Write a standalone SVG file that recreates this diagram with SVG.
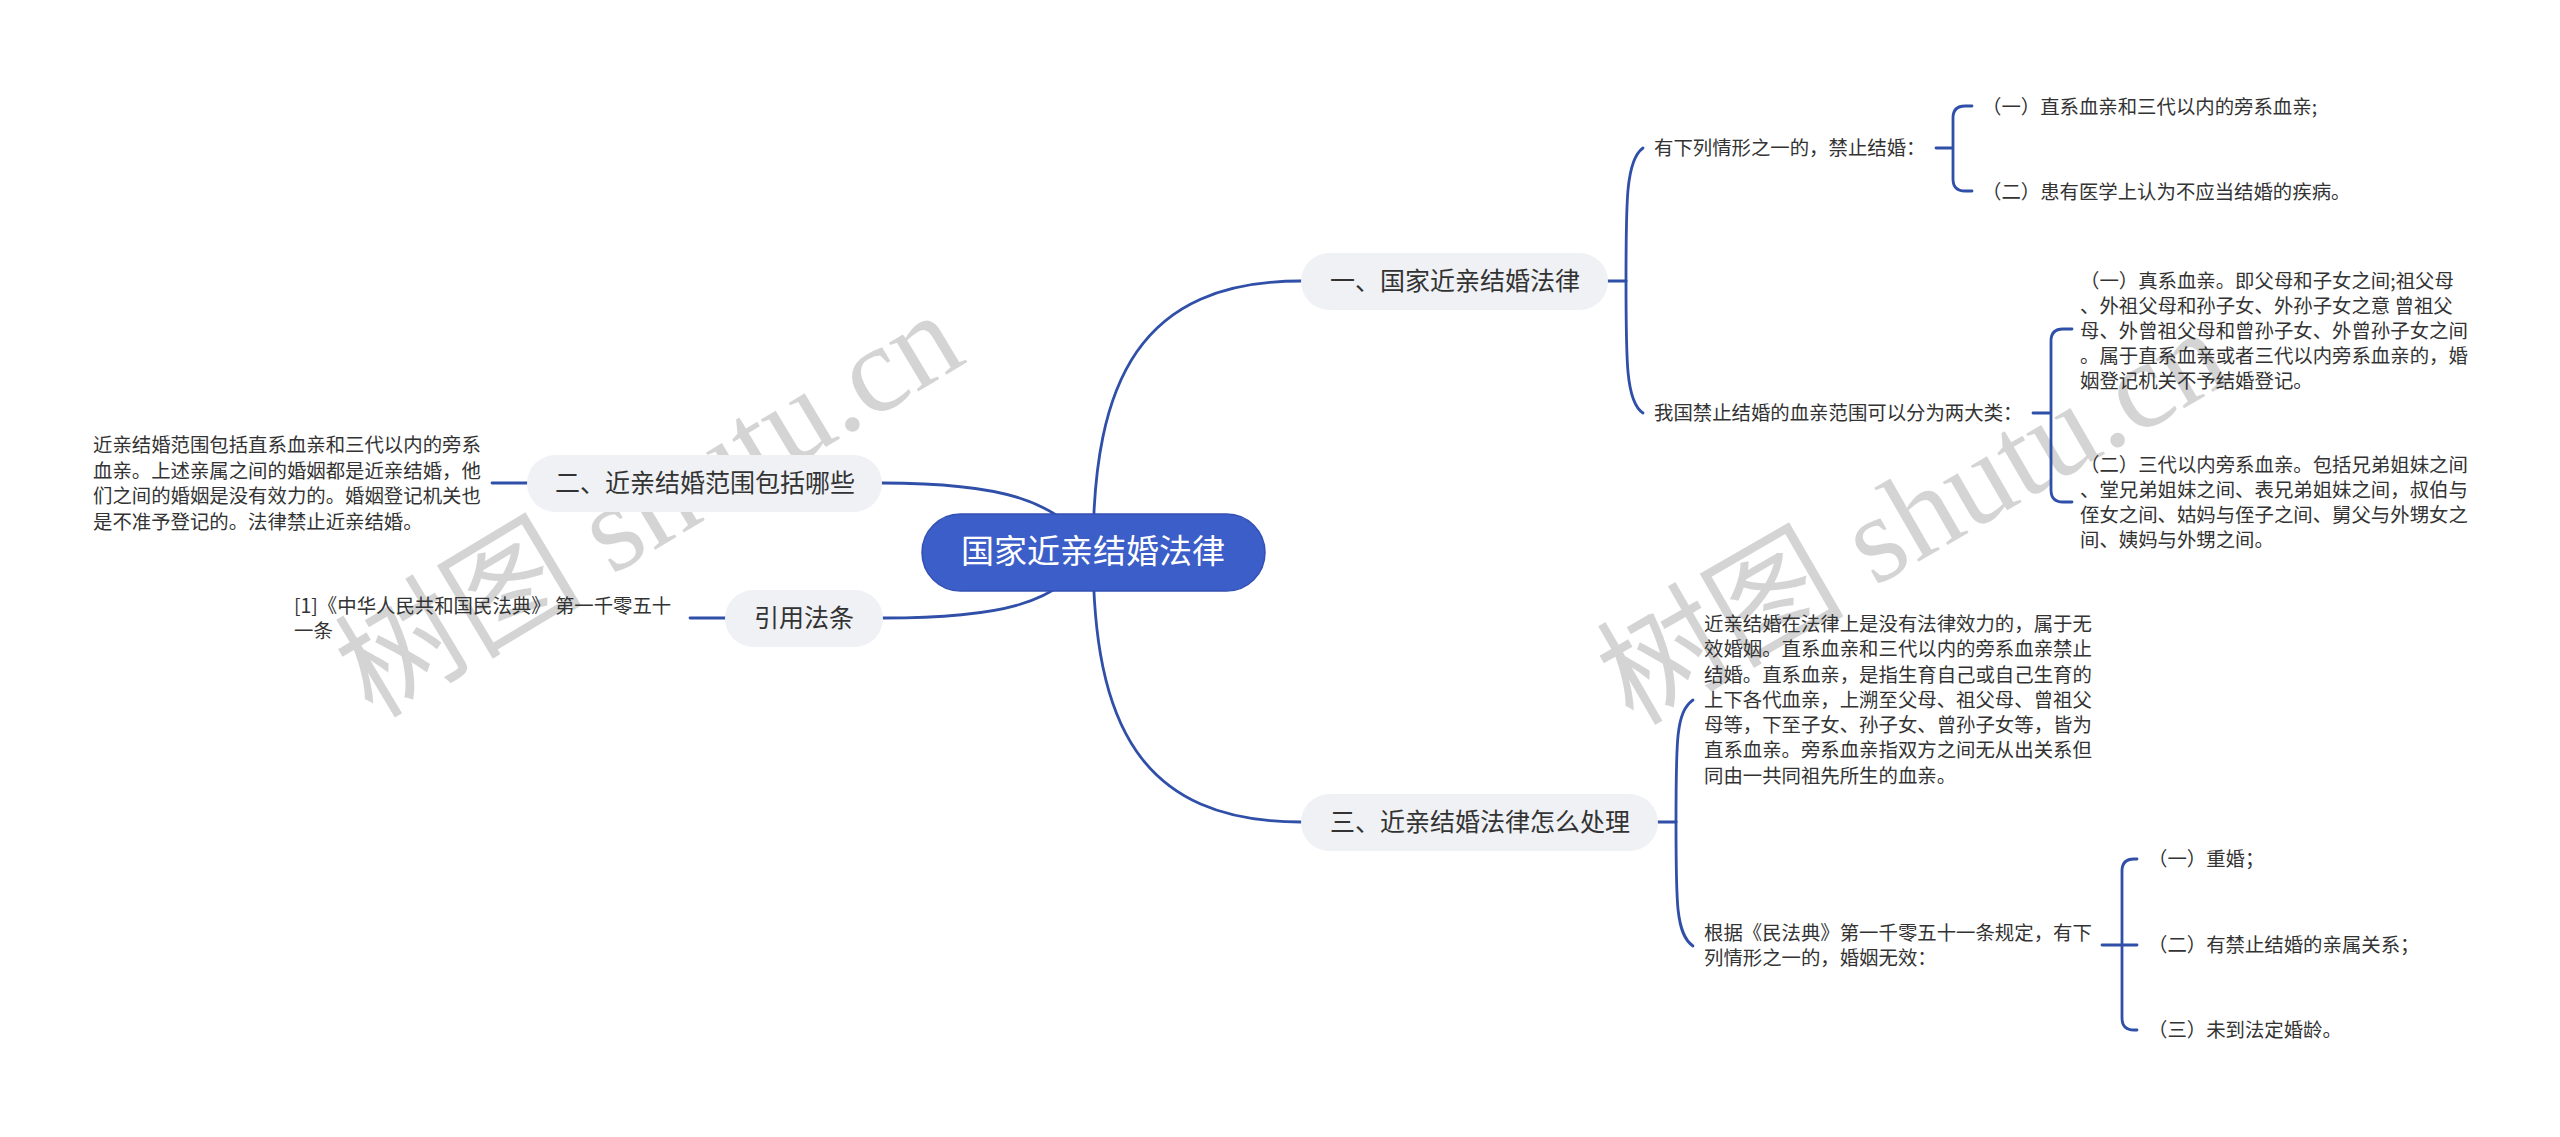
<svg xmlns="http://www.w3.org/2000/svg" width="2560" height="1137" viewBox="0 0 2560 1137">
<style>
.wm{font-family:"Liberation Serif","Noto Sans CJK SC",serif;font-size:124px;fill:#000;fill-opacity:0.17}
.c{fill:none;stroke:#2f4fa8;stroke-width:2.8;stroke-linecap:round}
.pill{fill:#eff1f5}
.nt{font-family:"Noto Sans CJK SC","Microsoft YaHei",sans-serif;font-size:25px;fill:#333;text-anchor:middle}
.rt{font-family:"Noto Sans CJK SC","Microsoft YaHei",sans-serif;font-size:33px;fill:#fff;text-anchor:middle}
.lt{font-family:"Noto Sans CJK SC","Microsoft YaHei",sans-serif;font-size:19.4px;fill:#333}
</style>
<rect width="2560" height="1137" fill="#fff"/>
<g id="watermarks">
<text class="wm" transform="translate(650,506) rotate(-31)" x="0" y="40" text-anchor="middle">树图 shutu.cn</text>
<text class="wm" transform="translate(1914,518) rotate(-30)" x="0" y="40" text-anchor="middle">树图 shutu.cn</text>
</g>
<g id="connectors">
<path class="c" d="M1093,552 C1093,380 1140,281 1301,281"/>
<path class="c" d="M1093,552 C1093,724 1140,822 1301,822"/>
<path class="c" d="M882,483 C1000,483 1060,500 1093,552"/>
<path class="c" d="M883,618 C1000,618 1060,604 1093,552"/>
<path class="c" d="M492,483 L527,483"/>
<path class="c" d="M690,618 L725,618"/>
<path class="c" d="M1608,281 L1626,281"/>
<path class="c" d="M1626,281 C1626,200 1626,160 1643,148"/>
<path class="c" d="M1626,281 C1626,362 1626,402 1643,413"/>
<path class="c" d="M1936,148 L1953,148 M1953,148 L1953,118 Q1953,106 1965,106 L1972,106 M1953,148 L1953,179 Q1953,191 1965,191 L1972,191"/>
<path class="c" d="M2033,413 L2051,413 M2051,413 L2051,341 Q2051,329 2063,329 L2072,329 M2051,413 L2051,490 Q2051,502 2063,502 L2072,502"/>
<path class="c" d="M1657,822 L1676,822"/>
<path class="c" d="M1676,822 C1676,740 1676,712 1693,700"/>
<path class="c" d="M1676,822 C1676,904 1676,934 1693,946"/>
<path class="c" d="M2102,945 L2137,945 M2122,945 L2122,871 Q2122,859 2134,859 L2137,859 M2122,945 L2122,1018 Q2122,1030 2134,1030 L2137,1030"/>
</g>
<g id="root">
<rect x="922" y="514" width="343" height="77" rx="38.5" fill="#3c5ec8" stroke="#3350b4" stroke-width="1.5"/>
<text class="rt" x="1093" y="563">国家近亲结婚法律</text>
</g>
<g id="n1">
<rect class="pill" x="1301" y="253" width="307" height="57" rx="28.5"/>
<text class="nt" x="1455" y="290">一、国家近亲结婚法律</text>
</g>
<g id="n2">
<rect class="pill" x="527" y="455" width="355" height="57" rx="28.5"/>
<text class="nt" x="705" y="492">二、近亲结婚范围包括哪些</text>
</g>
<g id="n3">
<rect class="pill" x="725" y="590" width="158" height="57" rx="28.5"/>
<text class="nt" x="804" y="627">引用法条</text>
</g>
<g id="n4">
<rect class="pill" x="1301" y="794" width="357" height="57" rx="28.5"/>
<text class="nt" x="1480" y="831">三、近亲结婚法律怎么处理</text>
</g>
<g id="n1a"><text class="lt" x="1654" y="155">有下列情形之一的，禁止结婚：</text></g>
<g id="n1a1"><text class="lt" x="1982" y="114">（一）直系血亲和三代以内的旁系血亲;</text></g>
<g id="n1a2"><text class="lt" x="1982" y="199">（二）患有医学上认为不应当结婚的疾病。</text></g>
<g id="n1b"><text class="lt" x="1654" y="420">我国禁止结婚的血亲范围可以分为两大类：</text></g>
<g id="n1b1"><text class="lt">
<tspan x="2080" y="288">（一）真系血亲。即父母和子女之间;祖父母</tspan>
<tspan x="2080" y="313">、外祖父母和孙子女、外孙子女之意 曾祖父</tspan>
<tspan x="2080" y="338">母、外曾祖父母和曾孙子女、外曾孙子女之间</tspan>
<tspan x="2080" y="363">。属于直系血亲或者三代以内旁系血亲的，婚</tspan>
<tspan x="2080" y="388">姻登记机关不予结婚登记。</tspan>
</text></g>
<g id="n1b2"><text class="lt">
<tspan x="2080" y="472">（二）三代以内旁系血亲。包括兄弟姐妹之间</tspan>
<tspan x="2080" y="497">、堂兄弟姐妹之间、表兄弟姐妹之间，叔伯与</tspan>
<tspan x="2080" y="522">侄女之间、姑妈与侄子之间、舅父与外甥女之</tspan>
<tspan x="2080" y="547">间、姨妈与外甥之间。</tspan>
</text></g>
<g id="n2a"><text class="lt">
<tspan x="93" y="452">近亲结婚范围包括直系血亲和三代以内的旁系</tspan>
<tspan x="93" y="478">血亲。上述亲属之间的婚姻都是近亲结婚，他</tspan>
<tspan x="93" y="503">们之间的婚姻是没有效力的。婚姻登记机关也</tspan>
<tspan x="93" y="529">是不准予登记的。法律禁止近亲结婚。</tspan>
</text></g>
<g id="n3a"><text class="lt">
<tspan x="294" y="613">[1]《中华人民共和国民法典》 第一千零五十</tspan>
<tspan x="294" y="638">一条</tspan>
</text></g>
<g id="n4a"><text class="lt">
<tspan x="1704" y="631">近亲结婚在法律上是没有法律效力的，属于无</tspan>
<tspan x="1704" y="656">效婚姻。直系血亲和三代以内的旁系血亲禁止</tspan>
<tspan x="1704" y="682">结婚。直系血亲，是指生育自己或自己生育的</tspan>
<tspan x="1704" y="707">上下各代血亲，上溯至父母、祖父母、曾祖父</tspan>
<tspan x="1704" y="732">母等，下至子女、孙子女、曾孙子女等，皆为</tspan>
<tspan x="1704" y="757">直系血亲。旁系血亲指双方之间无从出关系但</tspan>
<tspan x="1704" y="783">同由一共同祖先所生的血亲。</tspan>
</text></g>
<g id="n4b"><text class="lt">
<tspan x="1704" y="940">根据《民法典》第一千零五十一条规定，有下</tspan>
<tspan x="1704" y="965">列情形之一的，婚姻无效：</tspan>
</text></g>
<g id="n4b1"><text class="lt" x="2148" y="866">（一）重婚；</text></g>
<g id="n4b2"><text class="lt" x="2148" y="952">（二）有禁止结婚的亲属关系；</text></g>
<g id="n4b3"><text class="lt" x="2148" y="1037">（三）未到法定婚龄。</text></g>
</svg>
